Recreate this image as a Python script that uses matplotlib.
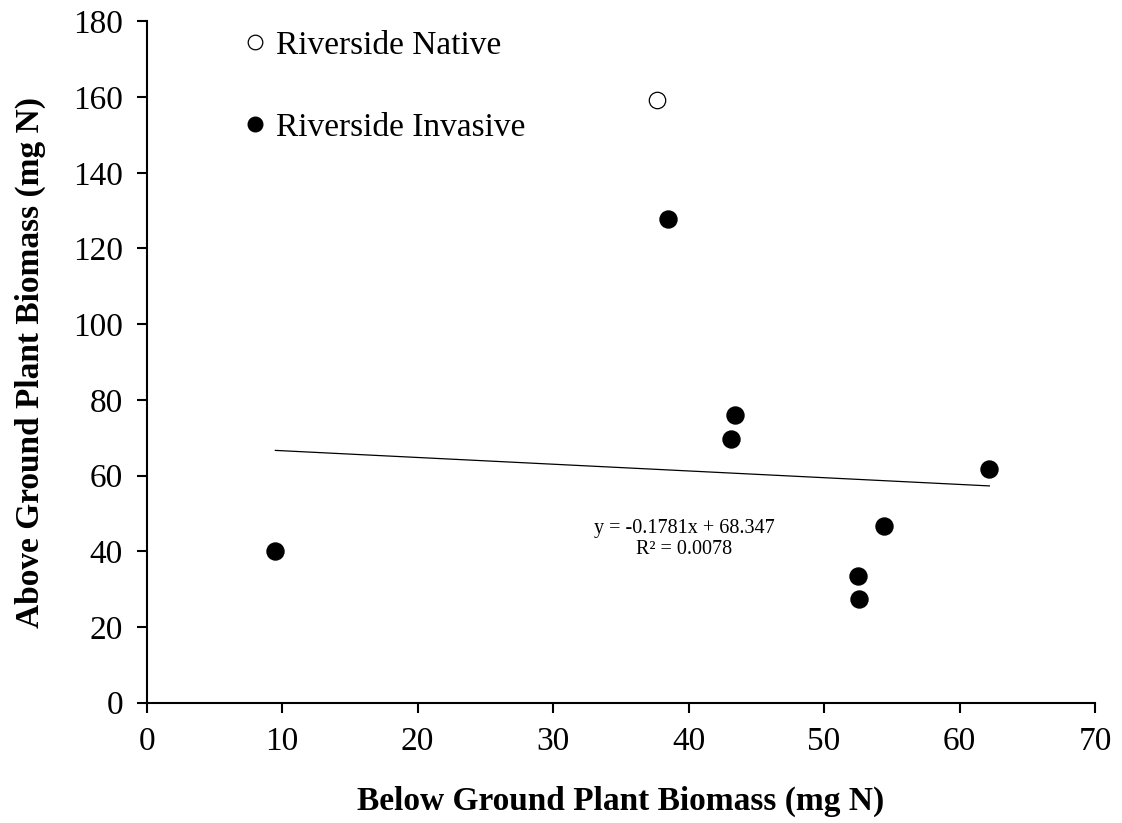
import matplotlib
matplotlib.use('Agg')
import matplotlib.pyplot as plt
from matplotlib.lines import Line2D
import numpy as np

plt.rcParams['font.family'] = ['Liberation Serif', 'DejaVu Serif']

# below ground (x) vs above ground (y) plant N, mg
native_x = [37.7]
native_y = [159.2]
invasive_x = [9.5, 38.5, 43.4, 43.1, 62.2, 54.4, 52.5, 52.6]
invasive_y = [40.2, 127.8, 75.9, 69.7, 61.8, 46.8, 33.5, 27.3]

# linear fit on invasive plants
slope = -0.1781
intercept = 68.347
r2 = 0.0078

x_ticks = np.arange(0, 71, 10)
y_ticks = np.arange(0, 181, 20)

fig = plt.figure(figsize=(11.22, 8.23), dpi=100)
ax = fig.add_axes([0.1307, 0.1462, 0.8453, 0.8278])

ax.scatter(native_x, native_y, s=140, facecolor='white', edgecolor='black',
           linewidth=0.9, zorder=3)
ax.scatter(invasive_x, invasive_y, s=150, color='black', zorder=3)

fit_x = np.array([min(invasive_x), max(invasive_x)])
ax.plot(fit_x, slope * fit_x + intercept, color='black', lw=0.9, zorder=2)
ax.text(39.7, 43.3, 'y = %.4fx + %.3f\nR² = %.4f' % (slope, intercept, r2),
        ha='center', va='center', fontsize=14.5, linespacing=1.15)

ax.set_xlim(0, 70)
ax.set_ylim(0, 180)
ax.set_xticks(x_ticks)
ax.set_yticks(y_ticks)
ax.tick_params(direction='out', length=7, width=1.5, labelsize=24, pad=10)
for side in ['top', 'right']:
    ax.spines[side].set_visible(False)
for side in ['left', 'bottom']:
    ax.spines[side].set_linewidth(1.5)

ax.set_xlabel('Below Ground Plant Biomass (mg N)', fontsize=24, fontweight='bold')
ax.set_ylabel('Above Ground Plant Biomass (mg N)', fontsize=24, fontweight='bold')
ax.xaxis.set_label_coords(0.5, -0.1453)
ax.xaxis.label.set_va('center')
ax.yaxis.set_label_coords(-0.123, 0.5)
ax.yaxis.label.set_va('center')

handles = [
    Line2D([], [], marker='o', ls='none', mfc='white', mec='black', mew=0.9, ms=10.5),
    Line2D([], [], marker='o', ls='none', mfc='black', mec='black', ms=10.5),
]
ax.legend(handles, ['Riverside Native', 'Riverside Invasive'], loc='center left',
          bbox_to_anchor=(0.1058, 0.9044), frameon=False, fontsize=24,
          handlelength=0.5, handletextpad=0.38, borderpad=0, borderaxespad=0,
          labelspacing=1.55)

fig.savefig('out.png', dpi=100)
